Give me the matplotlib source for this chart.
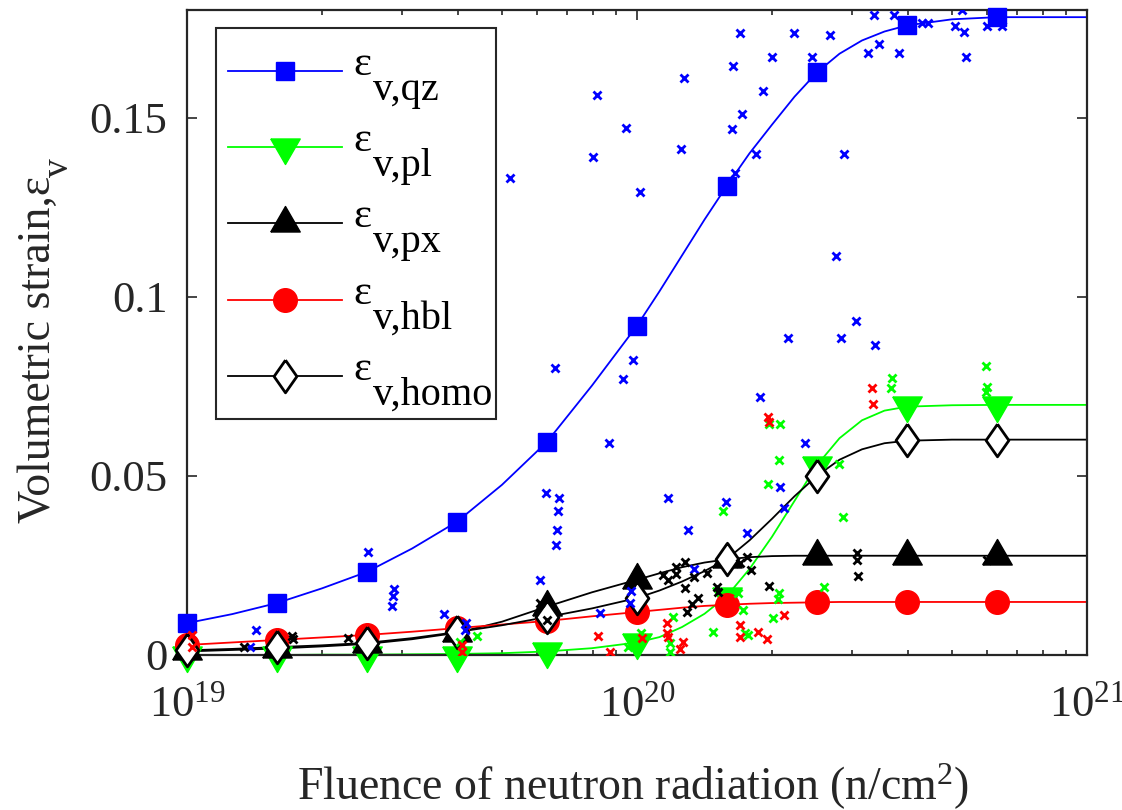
import numpy as np
import matplotlib
matplotlib.use("Agg")
from matplotlib import pyplot as plt
from matplotlib.patches import Rectangle
from matplotlib.ticker import LogLocator, NullLocator, FixedLocator, FixedFormatter

plt.rcParams['font.family'] = ['Liberation Serif', 'DejaVu Serif']
plt.rcParams['mathtext.fontset'] = 'custom'
plt.rcParams['mathtext.rm'] = 'Liberation Serif'
plt.rcParams['mathtext.it'] = 'Liberation Serif:italic'

# marker positions (log10 of fluence)
mark_exp = [19.0, 19.2, 19.4, 19.6, 19.8, 20.0, 20.2, 20.4, 20.6, 20.8]
qz_mark = [0.0089, 0.0145, 0.0232, 0.0372, 0.0595, 0.0919, 0.131, 0.1626, 0.1757, 0.178]
pl_mark = [0.0, 0.0, 0.0, 0.0001, 0.001, 0.0035, 0.0165, 0.053, 0.0697, 0.0698]
px_mark = [0.001, 0.0018, 0.0031, 0.0062, 0.0135, 0.021, 0.0267, 0.0277, 0.0277, 0.0277]
hbl_mark = [0.0028, 0.0042, 0.0056, 0.0075, 0.0095, 0.012, 0.014, 0.0147, 0.0148, 0.0148]
homo_mark = [0.0013, 0.0022, 0.0034, 0.0064, 0.0106, 0.0159, 0.0268, 0.050, 0.0600, 0.0601]

# fitted curves
curve_exp = [19.0, 19.1, 19.2, 19.3, 19.4, 19.5, 19.6, 19.7, 19.8, 19.9, 20.0, 20.05,
             20.1, 20.15, 20.2, 20.25, 20.3, 20.35, 20.4, 20.45, 20.5, 20.55, 20.6,
             20.7, 20.8, 20.9, 21.0]
qz_curve = [0.0089, 0.0114, 0.0145, 0.0186, 0.0232, 0.0297, 0.0372, 0.0475, 0.0595, 0.0752,
            0.0919, 0.1015, 0.1115, 0.1215, 0.131, 0.140, 0.148, 0.1558, 0.1626, 0.1678,
            0.1715, 0.174, 0.1757, 0.1774, 0.178, 0.178, 0.178]
pl_curve = [0.0, 0.0, 0.0, 0.0001, 0.0001, 0.0002, 0.0003, 0.0005, 0.001, 0.0019,
            0.0035, 0.005, 0.0078, 0.0115, 0.0165, 0.024, 0.033, 0.043, 0.053, 0.0605,
            0.0655, 0.0682, 0.0693, 0.0697, 0.0698, 0.0698, 0.0698]
px_curve = [0.001, 0.0014, 0.0018, 0.0024, 0.0031, 0.0044, 0.0062, 0.0093, 0.0135, 0.0175,
            0.021, 0.0228, 0.0245, 0.0258, 0.0267, 0.0273, 0.0276, 0.0277, 0.0277, 0.0277,
            0.0277, 0.0277, 0.0277, 0.0277, 0.0277, 0.0277, 0.0277]
hbl_curve = [0.0028, 0.0035, 0.0042, 0.0049, 0.0056, 0.0065, 0.0075, 0.0085, 0.0095, 0.0108,
             0.012, 0.0126, 0.0132, 0.0137, 0.014, 0.0143, 0.0145, 0.0146, 0.0147, 0.0148,
             0.0148, 0.0148, 0.0148, 0.0148, 0.0148, 0.0148, 0.0148]
homo_curve = [0.0013, 0.0017, 0.0022, 0.0027, 0.0034, 0.0047, 0.0064, 0.0083, 0.0106, 0.013,
              0.0159, 0.018, 0.0205, 0.0234, 0.0268, 0.032, 0.038, 0.0443, 0.050, 0.0545,
              0.0574, 0.0591, 0.0598, 0.0601, 0.0601, 0.0601, 0.0601]

# measured samples (log10 fluence, strain)
qz_pts_exp = [19.718, 19.911, 19.902, 19.976, 20.007, 20.104, 20.098, 20.213, 20.229, 20.211,
              20.233, 20.280, 20.264, 20.218, 20.300, 20.349, 20.389, 20.429, 20.460, 20.442,
              20.487, 20.336, 20.453, 20.529, 20.527, 20.571, 20.513, 20.538, 20.582, 20.633,
              20.647, 20.722, 20.707, 20.727, 20.731, 20.778, 20.811,
              19.818, 19.969, 19.991, 19.938, 19.798, 19.827, 19.824, 19.822, 19.820, 19.784,
              19.402, 19.460, 19.458, 19.456, 19.571, 19.620, 19.618, 19.153, 19.140, 19.918,
              19.987, 19.984, 20.273, 20.373, 20.318, 20.327, 20.198, 20.069, 20.113, 20.244,
              20.127]
qz_pts = [0.1332, 0.1564, 0.1391, 0.1472, 0.1293, 0.1609, 0.1413, 0.1645, 0.1735, 0.1469,
          0.1511, 0.1573, 0.1399, 0.1346, 0.1670, 0.1735, 0.1670, 0.1729, 0.1399, 0.1113,
          0.0933, 0.0886, 0.0886, 0.0866, 0.1785, 0.1785, 0.1679, 0.1704, 0.1679, 0.1765,
          0.1763, 0.1799, 0.1754, 0.1740, 0.1668, 0.1754, 0.1754,
          0.0802, 0.0771, 0.0824, 0.0592, 0.0453, 0.0439, 0.0402, 0.0349, 0.0307, 0.0209,
          0.0288, 0.0184, 0.0165, 0.0137, 0.0115, 0.0089, 0.0070, 0.0070, 0.0022, 0.0117,
          0.0179, 0.0145, 0.0721, 0.0592, 0.0469, 0.0411, 0.0427, 0.0439, 0.0349, 0.0341,
          0.0240]
pl_pts_exp = [20.776, 20.778, 20.776, 20.567, 20.564, 20.318, 20.293, 20.316, 20.291, 20.191,
              20.449, 20.458, 20.416, 20.316, 20.313, 20.224, 20.236, 20.302, 20.169, 20.080,
              20.247, 20.073, 20.073, 20.009, 19.980, 19.644, 19.607, 20.240]
pl_pts = [0.0807, 0.0749, 0.0735, 0.0774, 0.0746, 0.0645, 0.0645, 0.0545, 0.0478, 0.0402,
          0.0534, 0.0385, 0.0190, 0.0173, 0.0156, 0.0173, 0.0126, 0.0103, 0.0064, 0.0106,
          0.0056, 0.0034, 0.0008, 0.0061, 0.0022, 0.0053, 0.0036, 0.0062]
hbl_pts_exp = [20.522, 20.524, 20.291, 20.293, 20.327, 20.229, 20.229, 20.269, 20.289, 20.067,
               20.067, 20.069, 20.102, 20.096, 20.011, 19.940, 19.913, 19.611, 19.611, 19.011,
               19.011]
hbl_pts = [0.0746, 0.0701, 0.0665, 0.0651, 0.0112, 0.0084, 0.0050, 0.0064, 0.0045, 0.0089,
           0.0061, 0.0050, 0.0036, 0.0017, 0.0047, 0.0008, 0.0053, 0.0028, 0.0008, 0.0022,
           0.0056]
blk_pts_exp = [20.489, 20.489, 20.491, 20.778, 20.244, 20.253, 20.229, 20.293, 20.107, 20.087,
               20.087, 20.058, 20.069, 20.127, 20.156, 20.107, 20.136, 20.122, 20.111, 20.178,
               20.180, 19.784, 19.800, 19.233, 19.236, 19.358, 19.127]
blk_pts = [0.0285, 0.0265, 0.0221, 0.0265, 0.0274, 0.0237, 0.0257, 0.0193, 0.0260, 0.0246,
           0.0226, 0.0223, 0.0209, 0.0218, 0.0229, 0.0187, 0.0159, 0.0142, 0.0120, 0.0190,
           0.0176, 0.0145, 0.0098, 0.0053, 0.0045, 0.0047, 0.0022]

leg_sub = ['v,qz', 'v,pl', 'v,px', 'v,hbl', 'v,homo']

dark = '#262626'
tri_up = [(-1, -0.5774), (1, -0.5774), (0, 1.1547), (-1, -0.5774)]
tri_dn = [(-1, 0.5774), (1, 0.5774), (0, -1.1547), (-1, 0.5774)]
diam = [(0, 1), (0.7, 0), (0, -1), (-0.7, 0), (0, 1)]

styles = [
    dict(color='#0000ff', marker='s', ms=13, mfc='#0000ff', mec='#0000ff', mew=1),
    dict(color='#00ff00', marker=tri_dn, ms=24.5, mfc='#00ff00', mec='#00ff00', mew=1),
    dict(color='black', marker=tri_up, ms=24.5, mfc='black', mec='black', mew=1),
    dict(color='#ff0000', marker='o', ms=17, mfc='#ff0000', mec='#ff0000', mew=1),
    dict(color='black', marker=diam, ms=23.5, mfc='white', mec='black', mew=2),
]
curves = [qz_curve, pl_curve, px_curve, hbl_curve, homo_curve]
marks = [qz_mark, pl_mark, px_mark, hbl_mark, homo_mark]

fig = plt.figure(figsize=(11.22, 8.10), dpi=100)
ax = fig.add_axes([187 / 1122, 155 / 810, 900 / 1122, 645 / 810])

cx = 10 ** np.array(curve_exp)
mx = 10 ** np.array(mark_exp)
for st, cv, mk in zip(styles, curves, marks):
    ax.plot(cx, cv, color=st['color'], lw=1.3, zorder=2)
    ax.plot(mx, mk, ls='none', marker=st['marker'], ms=st['ms'], mfc=st['mfc'],
            mec=st['mec'], mew=st['mew'], clip_on=False, zorder=3)

for ex, vals, c in [(qz_pts_exp, qz_pts, '#0000ff'), (pl_pts_exp, pl_pts, '#00ff00'),
                    (hbl_pts_exp, hbl_pts, '#ff0000'), (blk_pts_exp, blk_pts, 'black')]:
    ax.plot(10 ** np.array(ex), vals, ls='none', marker='x', ms=6, mew=2, color=c, zorder=4)

ax.set_xscale('log')
ax.set_xlim(1e19, 1e21)
ax.set_ylim(0, 0.18)
ax.yaxis.set_major_locator(FixedLocator([0, 0.05, 0.1, 0.15]))
ax.yaxis.set_major_formatter(FixedFormatter(['0', '0.05', '0.1', '0.15']))
ax.yaxis.set_minor_locator(NullLocator())
ax.xaxis.set_major_locator(LogLocator(base=10))
ax.xaxis.set_minor_locator(LogLocator(base=10, subs=np.arange(2, 10)))

for s in ax.spines.values():
    s.set_linewidth(1.6)
    s.set_color(dark)
ax.tick_params(which='both', direction='in', top=True, right=True, colors=dark,
               labelsize=32, width=1.2)
ax.tick_params(which='major', length=7)
ax.tick_params(which='minor', length=3.5)
ax.tick_params(axis='x', pad=22)
ax.tick_params(axis='y', pad=14)

# legend drawn by hand
ax.add_patch(Rectangle((0.0322, 0.366), 0.3111, 0.606, transform=ax.transAxes,
                       facecolor='white', edgecolor=dark, lw=1.5, zorder=10, clip_on=False))
rows = [0.9054, 0.7876, 0.6698, 0.5504, 0.4326]
for st, ry, sub in zip(styles, rows, leg_sub):
    ax.plot([0.0456, 0.1722], [ry, ry], color=st['color'], lw=1.3,
            transform=ax.transAxes, zorder=11, clip_on=False)
    ax.plot([0.1089], [ry], ls='none', marker=st['marker'], ms=st['ms'], mfc=st['mfc'],
            mec=st['mec'], mew=st['mew'], transform=ax.transAxes, zorder=12, clip_on=False)
    ax.text(0.1844, ry - 4 / 645, '\u03b5', transform=ax.transAxes, fontsize=31,
            ha='left', va='baseline', color='black', zorder=13)
    ax.text(0.2067, ry - 29 / 645, sub, transform=ax.transAxes, fontsize=29,
            ha='left', va='baseline', color='black', zorder=13)

fig.text(50 / 1122, 1 - 523 / 810, 'Volumetric strain,\u03b5', rotation=90,
         rotation_mode='anchor', ha='left', va='baseline', fontsize=33, color=dark)
fig.text(68 / 1122, 1 - 177 / 810, 'v', rotation=90,
         rotation_mode='anchor', ha='left', va='baseline', fontsize=27, color=dark)
fig.text(633 / 1122, 1 - 800 / 810, 'Fluence of neutron radiation (n/cm$^{2}$)',
         ha='center', va='baseline', fontsize=33, color=dark)

fig.savefig('out.png', dpi=100)
